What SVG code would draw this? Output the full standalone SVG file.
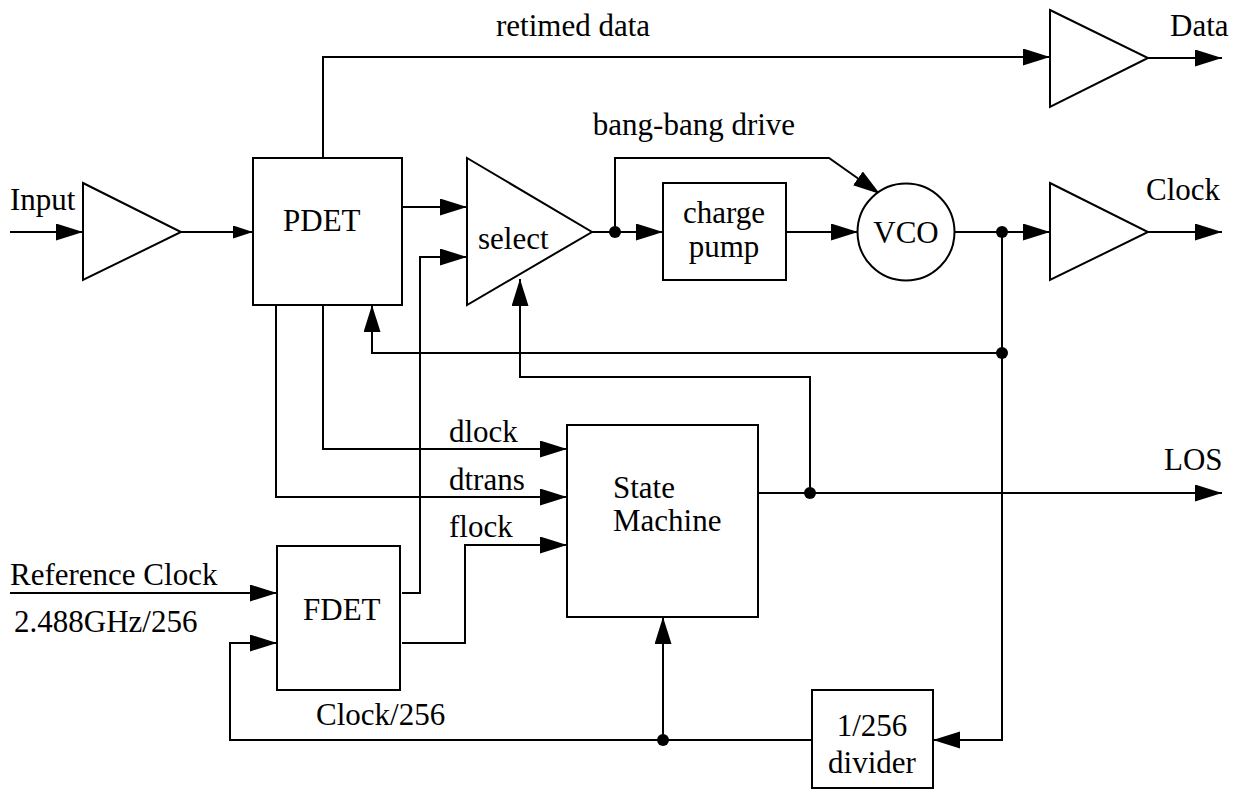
<svg xmlns="http://www.w3.org/2000/svg" width="1237" height="789" viewBox="0 0 1237 789">
<defs>
<marker id="arr" markerUnits="userSpaceOnUse" markerWidth="28" markerHeight="18" refX="27" refY="8.5" orient="auto"><path d="M0,0 L27,8.5 L0,17 z" fill="#000"/></marker>
<marker id="arrs" markerUnits="userSpaceOnUse" markerWidth="22" markerHeight="14" refX="20" refY="6.5" orient="auto"><path d="M0,0 L20,6.5 L0,13 z" fill="#000"/></marker>
</defs>
<style>
.s{fill:#fff;stroke:#000;stroke-width:2}
.w{fill:none;stroke:#000;stroke-width:2}
.a{marker-end:url(#arr)}
.t{font-family:"Liberation Serif","Times New Roman",serif;font-size:31px;fill:#000}
.m{text-anchor:middle}
.d{fill:#000}
</style>
<rect width="1237" height="789" fill="#fff"/>
<g id="connectors">
<path class="w a" d="M10,232 H83"/>
<path class="w" d="M181,232 H253" marker-end="url(#arrs)"/>
<path class="w a" d="M323,158 V57 H1050"/>
<path class="w a" d="M1148,58 H1222"/>
<path class="w a" d="M402,207 H467"/>
<path class="w a" d="M402,593 H420 V257 H467"/>
<path class="w" d="M592,232 H615"/>
<path class="w a" d="M615,232 H663"/>
<path class="w a" d="M615,232 V158 H829 L880,194"/>
<path class="w a" d="M786,232 H858"/>
<path class="w" d="M955,232 H1002"/>
<path class="w a" d="M1002,232 H1050"/>
<path class="w a" d="M1148,232 H1222"/>
<path class="w a" d="M1002,232 V740 H933"/>
<path class="w a" d="M1002,353 H372 V305"/>
<path class="w a" d="M810,493 V377 H520 V279"/>
<path class="w a" d="M323,305 V449 H567"/>
<path class="w a" d="M276,305 V497 H567"/>
<path class="w a" d="M402,643 H465 V545 H567"/>
<path class="w a" d="M758,493 H1222"/>
<path class="w a" d="M10,593 H277"/>
<path class="w a" d="M812,740 H230 V643 H277"/>
<path class="w a" d="M663,740 V617"/>
<circle class="d" cx="615" cy="232" r="6"/>
<circle class="d" cx="1002" cy="232" r="6"/>
<circle class="d" cx="1002" cy="353" r="6"/>
<circle class="d" cx="810" cy="493" r="6"/>
<circle class="d" cx="663" cy="740" r="6"/>
</g>
<g id="labels">
<text class="t" x="10" y="210">Input</text>
<text class="t m" x="573" y="36">retimed data</text>
<text class="t" x="1170" y="36">Data</text>
<text class="t m" x="694" y="135">bang-bang drive</text>
<text class="t" x="1146" y="200">Clock</text>
<text class="t" x="449" y="442">dlock</text>
<text class="t" x="449" y="490">dtrans</text>
<text class="t" x="449" y="537">flock</text>
<text class="t" x="1164" y="470">LOS</text>
<text class="t" x="10" y="585">Reference Clock</text>
<text class="t" x="14" y="632">2.488GHz/256</text>
<text class="t" x="316" y="725">Clock/256</text>
</g>
<g id="in-amp"><path class="s" d="M83,183 L181,232 L83,280 z"/></g>
<g id="pdet"><rect class="s" x="253" y="158" width="149" height="147"/><text class="t" x="283" y="231">PDET</text></g>
<g id="select"><path class="s" d="M467,158 L592,232 L467,305 z"/><text class="t" x="478" y="249">select</text></g>
<g id="charge-pump"><rect class="s" x="663" y="183" width="123" height="97"/><text class="t m" x="724" y="223">charge</text><text class="t m" x="724" y="257">pump</text></g>
<g id="vco"><circle class="s" cx="906" cy="232" r="48.5"/><text class="t m" x="906" y="243">VCO</text></g>
<g id="data-amp"><path class="s" d="M1050,10 L1148,58 L1050,107 z"/></g>
<g id="clock-amp"><path class="s" d="M1050,183 L1148,232 L1050,280 z"/></g>
<g id="state-machine"><rect class="s" x="567" y="425" width="191" height="192"/><text class="t" x="613" y="498">State</text><text class="t" x="613" y="531">Machine</text></g>
<g id="fdet"><rect class="s" x="277" y="546" width="123" height="144"/><text class="t" x="303" y="620">FDET</text></g>
<g id="divider"><rect class="s" x="812" y="690" width="121" height="98"/><text class="t m" x="872" y="736">1/256</text><text class="t m" x="872" y="773">divider</text></g>
</svg>
